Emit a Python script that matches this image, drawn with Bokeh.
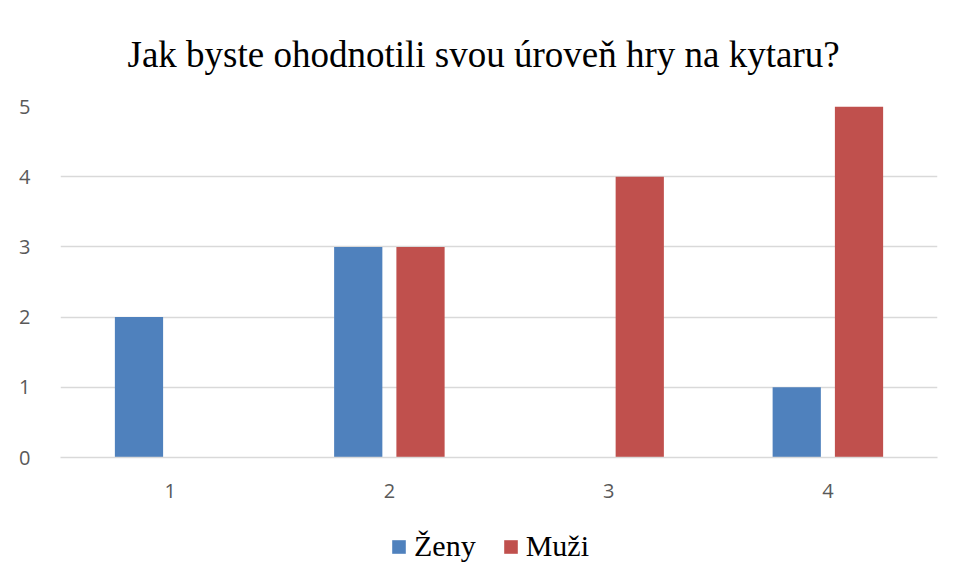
from bokeh.plotting import figure
from bokeh.models import ColumnDataSource, FactorRange, Legend, LegendItem, Range1d
from bokeh.layouts import column
from bokeh.transform import dodge
from bokeh.embed import file_html
from bokeh.resources import INLINE

categories = ["1", "2", "3", "4"]
zeny = [2, 3, 0, 1]
muzi = [0, 3, 4, 5]
series_names = ["Ženy", "Muži"]
colors = ["#4F81BD", "#C0504D"]

src = ColumnDataSource(data=dict(cat=categories, zeny=zeny, muzi=muzi))

p = figure(frame_width=877, frame_height=351, x_range=FactorRange(*categories, range_padding=0),
           y_range=Range1d(0, 5), output_backend="svg", toolbar_location=None,
           min_border_left=60, min_border_right=10, min_border_top=106, min_border_bottom=50)

p.title.text = "Jak byste ohodnotili svou úroveň hry na kytaru?"
p.title.text_font = "Liberation Serif"
p.title.text_font_size = "37px"
p.title.text_font_style = "normal"
p.title.align = "left"
p.title.offset = 67
p.title.text_color = "#000000"
p.title.standoff = 63

p.vbar(x=dodge("cat", -0.142, range=p.x_range), top="zeny", width=0.22, source=src,
       fill_color=colors[0], line_color=None)
p.vbar(x=dodge("cat", 0.142, range=p.x_range), top="muzi", width=0.22, source=src,
       fill_color=colors[1], line_color=None)

p.outline_line_color = None
p.xgrid.grid_line_color = None
p.ygrid.grid_line_color = "#D9D9D9"
p.ygrid.grid_line_width = 1.5
p.yaxis.ticker = [0, 1, 2, 3, 4, 5]
for ax in (p.xaxis[0], p.yaxis[0]):
    ax.axis_line_color = None
    ax.major_tick_line_color = None
    ax.minor_tick_line_color = None
    ax.major_label_text_font = "Open Sans"
    ax.major_label_text_font_size = "20px"
    ax.major_label_text_color = "#595959"
p.xaxis.axis_line_color = "#D9D9D9"
p.xaxis.axis_line_width = 1.5
p.xaxis.major_label_standoff = 20
p.yaxis.major_label_standoff = 24

# legend strip underneath the chart (its bars lie outside the strip's visible range)
lg = figure(width=947, height=60, x_range=FactorRange(*categories), y_range=Range1d(10, 11),
            output_backend="svg", toolbar_location=None, x_axis_type=None, y_axis_type=None,
            min_border_left=0, min_border_right=0, min_border_top=0, min_border_bottom=0)
lg.outline_line_color = None
lg.grid.visible = False
l1 = lg.vbar(x="cat", top="zeny", width=0.2, source=src, fill_color=colors[0], line_color=None)
l2 = lg.vbar(x="cat", top="muzi", width=0.2, source=src, fill_color=colors[1], line_color=None)

legend = Legend(items=[LegendItem(label=series_names[0], renderers=[l1]),
                       LegendItem(label=series_names[1], renderers=[l2])],
                orientation="horizontal", location=(330, 4))
legend.label_text_font = "Liberation Serif"
legend.label_text_font_size = "30px"
legend.label_text_color = "#000000"
legend.glyph_width = 17
legend.glyph_height = 17
legend.spacing = 26
legend.label_standoff = 7
legend.padding = 8
legend.border_line_color = None
legend.background_fill_alpha = 0
legend.margin = 0
lg.add_layout(legend, "center")

layout = column(p, lg, spacing=0)
open("out.html", "w").write(file_html(layout, INLINE))
